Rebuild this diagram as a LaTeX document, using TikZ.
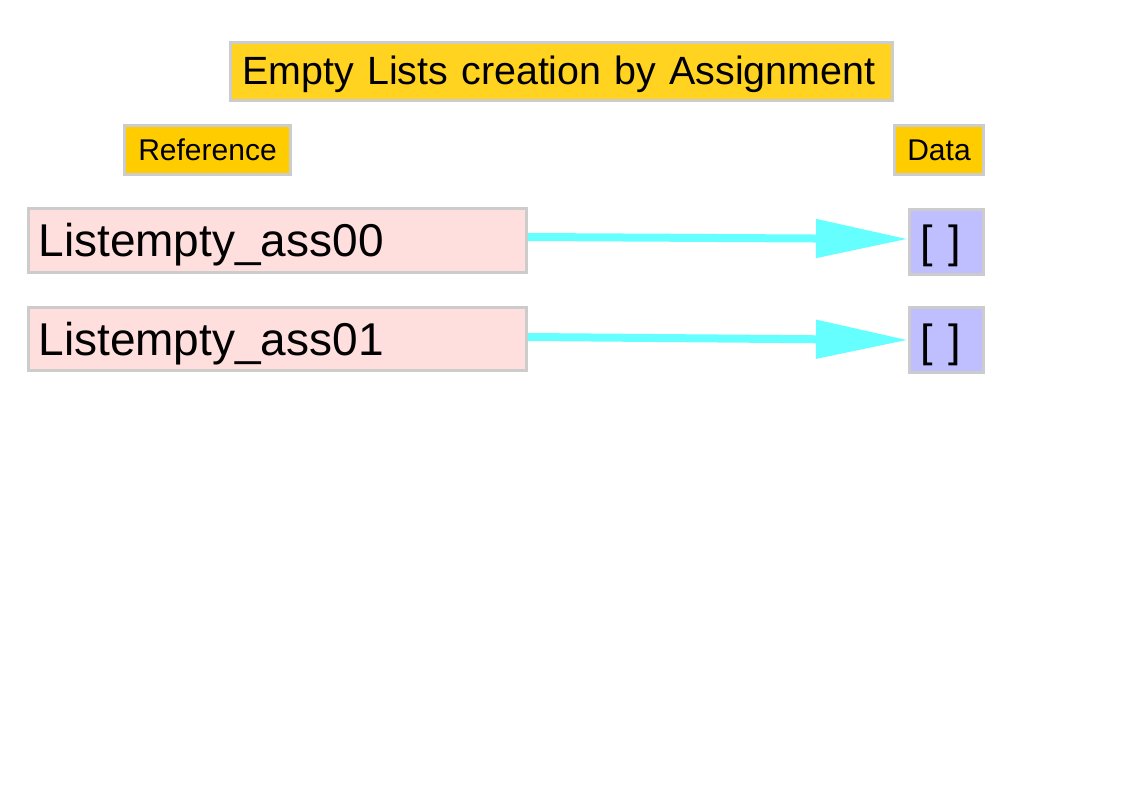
\documentclass[tikz,border=0pt]{standalone}
\usepackage{fontspec}
\setmainfont{Liberation Sans}
\usetikzlibrary{arrows.meta}
\definecolor{bordergray}{HTML}{CCCCCC}
\definecolor{titleyellow}{HTML}{FFD320}
\definecolor{headyellow}{HTML}{FFCC00}
\definecolor{refpink}{HTML}{FFDEDE}
\definecolor{datablue}{HTML}{BFBFFF}
\definecolor{arrowcyan}{HTML}{66FFFF}
\tikzset{
  box/.style={draw=bordergray, line width=3pt, inner ysep=0pt, anchor=north west, align=left},
  titlebox/.style={box, fill=titleyellow, font=\fontsize{39.4}{48}\selectfont, text width=638pt, inner xsep=12pt, text height=42.5pt, text depth=15.5pt},
  headbox/.style={box, fill=headyellow, font=\fontsize{30}{36}\selectfont, align=center, inner xsep=0pt, text height=35pt, text depth=14pt},
  refbox/.style={box, fill=refpink, font=\fontsize{46}{54}\selectfont, text width=478pt, inner xsep=10pt},
  databox/.style={box, fill=datablue, font=\fontsize{45}{54}\selectfont, text width=52pt, inner xsep=11pt},
  link/.style={draw=arrowcyan, line width=8pt, -{Triangle[length=92pt,width=37pt]}}
}
\begin{document}
\begin{tikzpicture}[x=1pt,y=-1pt]
\useasboundingbox (0,0) rectangle (1123,794);
\node[titlebox] (title) at (229,41) {\mbox{Empty Lists creation by Assignment}};
\node[headbox, text width=166pt] (refhead) at (123,124) {Reference};
\node[headbox, text width=89pt] (datahead) at (893,124) {Data};
\node[refbox, text height=48pt, text depth=16pt] (r0) at (27,207) {Listempty\_ass00};
\node[refbox, text height=47.5pt, text depth=15.5pt] (r1) at (27,306) {Listempty\_ass01};
\node[databox, text height=48pt, text depth=17pt] (d0) at (908,208) {[ ]};
\node[databox, text height=48.5pt, text depth=16.5pt] (d1) at (908,306) {[ ]};
\draw[link] ([yshift=3.5pt]r0.east) -- ([yshift=3pt]d0.west);
\draw[link] ([yshift=2pt]r1.east) -- ([yshift=0pt]d1.west);
\end{tikzpicture}
\end{document}
